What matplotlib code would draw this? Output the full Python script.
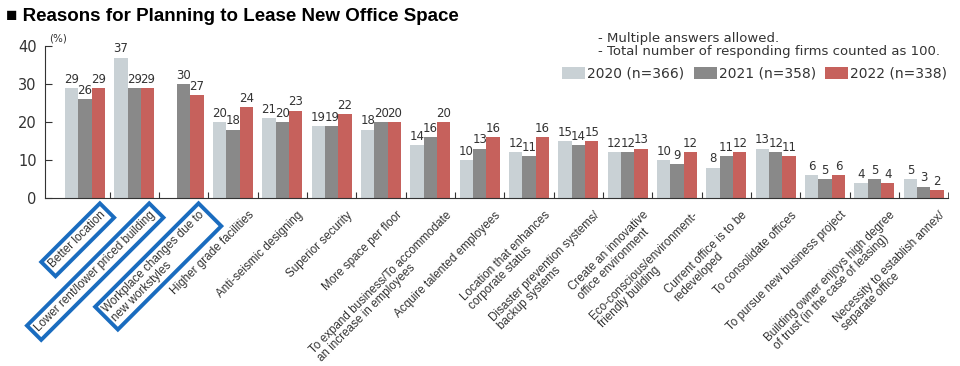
import numpy as np
import matplotlib.pyplot as plt

categories = [
    "Better location",
    "Lower rent/lower priced building",
    "Workplace changes due to\nnew workstyles",
    "Higher grade facilities",
    "Anti-seismic designing",
    "Superior security",
    "More space per floor",
    "To expand business/To accommodate\nan increase in employees",
    "Acquire talented employees",
    "Location that enhances\ncorporate status",
    "Disaster prevention systems/\nbackup systems",
    "Create an innovative\noffice environment",
    "Eco-conscious/environment-\nfriendly building",
    "Current office is to be\nredeveloped",
    "To consolidate offices",
    "To pursue new business project",
    "Building owner enjoys high degree\nof trust (in the case of leasing)",
    "Necessity to establish annex/\nseparate office",
]
v2020 = [29, 37, np.nan, 20, 21, 19, 18, 14, 10, 12, 15, 12, 10, 8, 13, 6, 4, 5]
v2021 = [26, 29, 30, 18, 20, 19, 20, 16, 13, 11, 14, 12, 9, 11, 12, 5, 5, 3]
v2022 = [29, 29, 27, 24, 23, 22, 20, 20, 16, 16, 15, 13, 12, 12, 11, 6, 4, 2]
series_names = ["2020 (n=366)", "2021 (n=358)", "2022 (n=338)"]
colors = ["#c9d1d5", "#898989", "#c6615c"]
boxed = [0, 1, 2]  # labels highlighted with blue frames

text_col = "#333333"
fig = plt.figure(figsize=(9.6, 3.66), dpi=100)
ax = fig.add_axes([0.047, 0.459, 0.941, 0.415])

x = np.arange(len(categories))
w = 0.27
for i, (vals, c, name) in enumerate(zip([v2020, v2021, v2022], colors, series_names)):
    pos = x + (i - 1) * w
    ax.bar(pos, vals, width=w, color=c, label=name)
    for p, v in zip(pos, vals):
        if not np.isnan(v):
            ax.text(p, v + 0.6, f"{v:g}", ha="center", va="bottom",
                    fontsize=8.5, color=text_col)

ax.set_xlim(-0.81, len(categories) - 0.51)
ax.set_ylim(0, 40)
ax.set_yticks([0, 10, 20, 30, 40])
ax.tick_params(axis="y", direction="in", length=5, labelsize=10.5,
               colors=text_col, pad=6)
ax.set_xticks(x[:-1] + 0.5)
ax.set_xticks([len(categories) - 0.5], minor=True)
ax.tick_params(axis="x", which="both", direction="in", length=4,
               labelbottom=False, colors=text_col)
for s in ["top", "right"]:
    ax.spines[s].set_visible(False)
for s in ["left", "bottom"]:
    ax.spines[s].set_color(text_col)

for i, lab in enumerate(categories):
    kw = {}
    if i in boxed:
        kw["bbox"] = dict(boxstyle="square,pad=0.35", fc="none",
                          ec="#1a6cbf", lw=2.8)
    ax.annotate(lab, xy=(i + 0.3, 0), xycoords=("data", "axes fraction"),
                xytext=(0, -8), textcoords="offset points",
                rotation=45, rotation_mode="anchor", ha="right", va="top",
                multialignment="left", fontsize=8.4, color=text_col,
                family="Liberation Sans", linespacing=1.0, **kw)

ax.text(0.004, 1.02, "(%)", transform=ax.transAxes, fontsize=7.5,
        color=text_col, va="bottom")

fig.text(0.006, 0.955, "\u25a0 Reasons for Planning to Lease New Office Space",
         fontsize=13.5, fontweight="bold", va="center", family="Liberation Sans")
fig.text(0.623, 0.877, "- Multiple answers allowed.\n- Total number of responding firms counted as 100.",
         fontsize=9.5, va="center", color=text_col, linespacing=1.05)
ax.legend(loc="upper right", bbox_to_anchor=(1.005, 0.90), ncol=3, frameon=False,
          fontsize=10, handlelength=1.65, handleheight=0.9, handletextpad=0.15,
          columnspacing=0.7, borderaxespad=0, labelcolor=text_col)

fig.savefig("out.png", dpi=100)
